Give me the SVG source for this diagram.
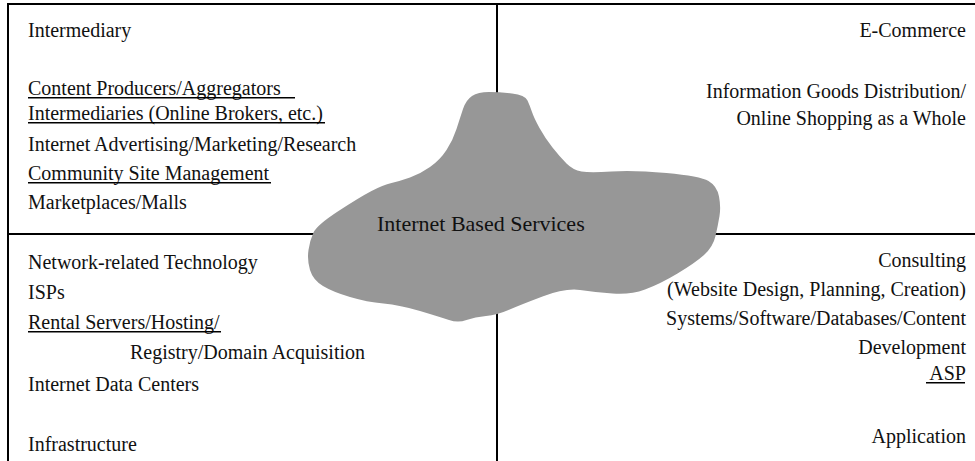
<svg xmlns="http://www.w3.org/2000/svg" width="975" height="461" viewBox="0 0 975 461">
<style>
  text { font-family: "Liberation Serif", "Times New Roman", serif; font-size: 20px; fill: #111; }
  .r { text-anchor: end; }
  .frame { stroke: #000; stroke-width: 2; fill: none; }
  .ul { stroke: #000; stroke-width: 1.6; }
  .cloud { fill: #979797; stroke: none; }
  .ct { font-size: 22px; }
</style>
<rect width="975" height="461" fill="#fff"/>
<g id="connectors">
  <line class="frame" x1="8" y1="4" x2="975" y2="4"/>
  <line class="frame" x1="8" y1="3" x2="8" y2="461"/>
  <line class="frame" x1="497" y1="4" x2="497" y2="461"/>
  <line class="frame" x1="8" y1="234" x2="975" y2="234"/>
</g>
<g id="intermediary">
  <text x="28" y="37">Intermediary</text>
  <text x="28" y="94.5">Content Producers/Aggregators</text>
  <line class="ul" x1="28" y1="97.7" x2="295" y2="97.7"/>
  <text x="28" y="120">Intermediaries (Online Brokers, etc.)</text>
  <line class="ul" x1="28" y1="122.7" x2="325" y2="122.7"/>
  <text x="28" y="151">Internet Advertising/Marketing/Research</text>
  <text x="28" y="180">Community Site Management</text>
  <line class="ul" x1="28" y1="182.7" x2="271" y2="182.7"/>
  <text x="28" y="208.5">Marketplaces/Malls</text>
</g>
<g id="ecommerce">
  <text class="r" x="966" y="37">E-Commerce</text>
  <text class="r" x="966" y="98.3">Information Goods Distribution/</text>
  <text class="r" x="966" y="125">Online Shopping as a Whole</text>
</g>
<g id="infrastructure">
  <text x="28" y="268.5">Network-related Technology</text>
  <text x="28" y="298.5">ISPs</text>
  <text x="28" y="329">Rental Servers/Hosting/</text>
  <line class="ul" x1="28" y1="331.7" x2="221" y2="331.7"/>
  <text x="130" y="359">Registry/Domain Acquisition</text>
  <text x="28" y="391">Internet Data Centers</text>
  <text x="28" y="450.5">Infrastructure</text>
</g>
<g id="application">
  <text class="r" x="966" y="266.7">Consulting</text>
  <text class="r" x="966" y="295.5">(Website Design, Planning, Creation)</text>
  <text class="r" x="966" y="325">Systems/Software/Databases/Content</text>
  <text class="r" x="966" y="354">Development</text>
  <text class="r" x="966" y="380">ASP</text>
  <line class="ul" x1="926" y1="382.7" x2="965" y2="382.7"/>
  <text class="r" x="966" y="443">Application</text>
</g>
<g id="internet-based-services">
  <path class="cloud" d="M463,109 Q466,100 472,96 Q478,92 489,92 Q500,92 512,93.5 Q525,95 527.5,100.5 Q530,106 532,112 Q534,118 539.5,128 Q545,138 552.5,147.5 Q560,157 566.5,163.5 Q573,170 581.5,171.5 Q590,173 611.5,171.5 Q633,170 666.5,173 Q700,176 708.5,181 Q717,186 719,196.5 Q721,207 719.5,216 Q718,225 715.5,236 Q713,247 704,255 Q695,263 677.5,273.5 Q660,284 645,289.5 Q630,295 612.5,293.5 Q595,292 580,290 Q565,288 542.5,296.5 Q520,305 508.5,310 Q497,315 486,316 Q475,317 466.5,320 Q458,323 449,320 Q440,317 420,311 Q400,305 383.5,303.5 Q367,302 350,297 Q333,292 323,286 Q313,280 310,270 Q307,260 308.5,250 Q310,240 313.5,232.5 Q317,225 338.5,211 Q360,197 371.5,191 Q383,185 391.5,183 Q400,181 410,177.5 Q420,174 430,167 Q440,160 446.5,150 Q453,140 456.5,129 Q460,118 463,109 Z"/>
  <text class="ct" x="377" y="231">Internet Based Services</text>
</g>
</svg>
